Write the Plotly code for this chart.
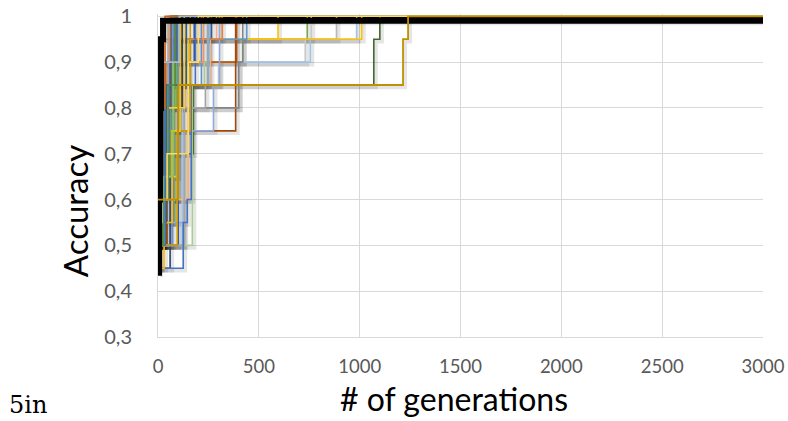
import plotly.graph_objects as go

# Step-change generations and accuracies for each run (value holds until next change, then to 3000)
run_gens = [
    [0, 40, 175, 1070, 1100],      # dark green
    [0, 50, 300, 730, 760],        # light gray
    [0, 80, 420, 740],             # green
    [0, 60, 885],                  # gray
    [0, 120, 400, 755, 985],       # light blue
    [0, 150, 1010],                # gold
    [0, 100, 595],                 # gold 2
    [0, 40, 130, 390],             # dark orange
    [0, 45, 385],                  # brown
    [0, 75, 400, 420],             # dark gray
    [0, 130, 275, 305],            # lavender blue
    [0, 150, 260, 290],            # peach
    [0, 170, 230, 250],            # light green
    [0, 100, 265],                 # mid blue
    [0, 60, 180],                  # navy
    [0, 100, 440],                 # sky blue
    [0, 15, 318],                  # orange
    [0, 130, 235, 245],            # gray
    [0, 125, 145, 165, 185],       # blue (slowest start)
    [0, 70, 215],
    [0, 95, 160],
    [0, 40, 110, 250],
    [0, 30, 225],
    [0, 30, 70, 110],
    [0, 25, 60, 90],
    [0, 20, 55, 80],
    [0, 10, 40, 60],
    [0, 35, 50],
    [0, 15, 45, 70],
    [0, 25, 120],
    [0, 20, 90],
    [0, 10, 30, 65],
    [0, 40, 140],
    [0, 30, 75, 100],
    [0, 50, 130],
    [0, 35, 95],
    [0, 25, 50, 85],
    [0, 15, 35],
    [0, 20, 105],
    [0, 45, 150, 200],
    [0, 5, 10, 15, 25],            # black
    [0, 100, 1215, 1240],          # dark gold
]
run_acc = [
    [0.50, 0.70, 0.85, 0.95, 1.0],
    [0.50, 0.85, 0.90, 0.95, 1.0],
    [0.55, 0.90, 0.95, 1.0],
    [0.50, 0.95, 1.0],
    [0.50, 0.80, 0.90, 0.95, 1.0],
    [0.60, 0.95, 1.0],
    [0.65, 0.95, 1.0],
    [0.55, 0.80, 0.90, 1.0],
    [0.50, 0.75, 1.0],
    [0.55, 0.80, 0.90, 1.0],
    [0.55, 0.75, 0.85, 1.0],
    [0.60, 0.85, 0.95, 1.0],
    [0.50, 0.85, 0.90, 1.0],
    [0.50, 0.95, 1.0],
    [0.45, 0.90, 1.0],
    [0.60, 0.95, 1.0],
    [0.65, 0.95, 1.0],
    [0.50, 0.80, 0.85, 1.0],
    [0.45, 0.55, 0.60, 0.85, 1.0],
    [0.50, 0.85, 1.0],
    [0.50, 0.75, 1.0],
    [0.60, 0.75, 0.85, 1.0],
    [0.65, 0.90, 1.0],
    [0.45, 0.55, 0.75, 1.0],
    [0.50, 0.65, 0.80, 1.0],
    [0.50, 0.70, 0.90, 1.0],
    [0.55, 0.75, 0.90, 1.0],
    [0.60, 0.85, 1.0],
    [0.45, 0.60, 0.85, 1.0],
    [0.50, 0.80, 1.0],
    [0.60, 0.90, 1.0],
    [0.45, 0.55, 0.80, 1.0],
    [0.55, 0.85, 1.0],
    [0.50, 0.65, 0.90, 1.0],
    [0.60, 0.80, 1.0],
    [0.50, 0.90, 1.0],
    [0.50, 0.60, 0.85, 1.0],
    [0.60, 0.80, 1.0],
    [0.55, 0.90, 1.0],
    [0.60, 0.70, 0.90, 1.0],
    [0.44, 0.60, 0.80, 0.95, 0.99],
    [0.60, 0.85, 0.95, 1.0],
]
run_colors = [
    "#43682B", "#C9C9C9", "#70AD47", "#B7B7B7", "#9DC3E6", "#FFC000", "#FFC000",
    "#C55A11", "#9E480E", "#848484", "#8FAADC", "#F4B183", "#A9D18E", "#335AA1",
    "#264478", "#5B9BD5", "#ED7D31", "#A5A5A5", "#4472C4", "#698ED0", "#CC9A00",
    "#7CAFDD", "#F1975A", "#FFC000", "#70AD47", "#4472C4", "#ED7D31", "#A5A5A5",
    "#5B9BD5", "#264478", "#9E480E", "#636363", "#255E91", "#8CC168", "#FFCD33",
    "#3A75B0", "#5A8A39", "#D26012", "#ADB9CA", "#FFD966", "#000000", "#BF9000",
]
run_widths = [1.6] * 40 + [6, 1.8]

x_end = 3000
y_tickvals = [0.3, 0.4, 0.5, 0.6, 0.7, 0.8, 0.9, 1.0]
y_ticktext = ["0,3", "0,4", "0,5", "0,6", "0,7", "0,8", "0,9", "1"]
x_tickvals = [0, 500, 1000, 1500, 2000, 2500, 3000]

fig = go.Figure()

# soft shadows (Excel outer shadow look)
for g, a in zip(run_gens, run_acc):
    xs = [v + 10 for v in g] + [x_end]
    ys = [v - 0.005 for v in a] + [a[-1] - 0.005]
    fig.add_trace(go.Scatter(x=xs, y=ys, mode="lines", line=dict(color="rgba(0,0,0,0.10)", width=4, shape="hv"),
                             hoverinfo="skip", showlegend=False))

for g, a, c, w in zip(run_gens, run_acc, run_colors, run_widths):
    fig.add_trace(go.Scatter(x=g + [x_end], y=a + [a[-1]], mode="lines",
                             line=dict(color=c, width=w, shape="hv"), showlegend=False))

fig.update_layout(
    width=788, height=421,
    margin=dict(l=158, r=25, t=14, b=84),
    plot_bgcolor="white", paper_bgcolor="white",
    font=dict(family="Lato", color="#595959"),
    xaxis=dict(range=[0, 3000], tickvals=x_tickvals, showgrid=True, gridcolor="#D9D9D9", gridwidth=1,
               showline=True, linecolor="#D9D9D9", zeroline=False, ticks="", automargin=False,
               ticklabeloverflow="allow",
               tickfont=dict(size=18.5, color="#595959", family="Lato"), ticklabelstandoff=13),
    yaxis=dict(range=[0.3, 1.005], tickvals=y_tickvals, ticktext=y_ticktext, showgrid=True,
               gridcolor="#D9D9D9", gridwidth=1, showline=True, linecolor="#D9D9D9", zeroline=False,
               ticks="", automargin=False, ticklabeloverflow="allow",
               tickfont=dict(size=20, color="#595959", family="Lato"), ticklabelstandoff=21),
    annotations=[
        dict(text="# of generations", xref="paper", yref="paper", x=0.49, y=-0.19, xanchor="center",
             yanchor="middle", showarrow=False, font=dict(size=32, color="black", family="Lato")),
        dict(text="Accuracy", xref="paper", yref="paper", x=-0.137, y=0.39, xanchor="center",
             yanchor="middle", textangle=-90, showarrow=False, font=dict(size=33, color="black", family="Lato")),
        dict(text="5in", xref="paper", yref="paper", x=(7 - 158) / 605, y=-0.212, xanchor="left",
             yanchor="middle", showarrow=False, font=dict(size=24, color="black", family="DejaVu Serif")),
    ],
)

# remove the browser's default page margin so the figure fills the window exactly
fig.write_html("out.html", config={"displayModeBar": False},
               post_script="document.body.style.margin='0';document.body.style.overflow='hidden';")
